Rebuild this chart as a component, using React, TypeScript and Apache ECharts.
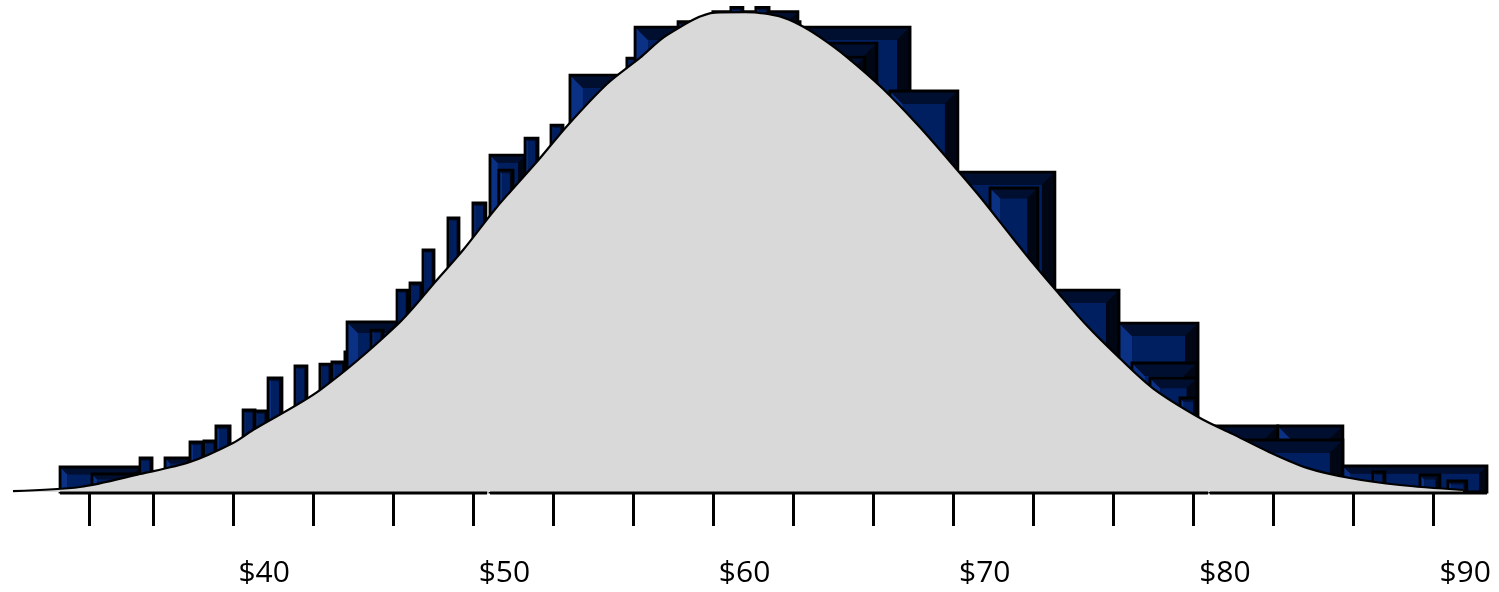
import React, { useEffect, useRef } from "react";
import * as echarts from "echarts";

// Histogram bins (price from, price to, count)
const binStart = [31.5, 32.83, 34.83, 35.87, 36.91, 37.49, 37.99, 39.12, 39.62, 40.16, 41.28, 42.32, 42.82, 43.36, 43.45, 44.45, 45.53, 46.07, 46.61, 47.65, 48.69, 49.4, 49.77, 50.86, 51.94, 52.73, 55.1, 55.44, 57.23, 58.68, 59.43, 60.47, 62.31, 61.47, 66.05, 68.88, 70.22, 72.92, 75.59, 76.13, 76.88, 78.13, 79.37, 82.2, 80.33, 84.91, 86.16, 88.12, 89.28];
const binEnd = [34.83, 34.83, 35.33, 36.91, 37.49, 37.99, 38.58, 39.62, 40.12, 40.74, 41.78, 42.78, 43.36, 43.86, 45.53, 44.95, 45.99, 46.57, 47.07, 48.11, 49.23, 50.9, 50.36, 51.4, 52.44, 55.44, 55.48, 66.89, 62.31, 62.22, 59.93, 61.02, 65.51, 65.01, 68.88, 72.92, 72.21, 75.59, 78.88, 78.83, 78.83, 78.83, 82.2, 84.91, 84.91, 90.91, 86.66, 88.95, 90.07];
const binCount = [5.18, 3.73, 7.05, 7.05, 10.37, 10.57, 13.68, 17.0, 16.79, 23.63, 26.12, 26.53, 26.95, 29.02, 35.24, 33.58, 41.87, 43.33, 50.17, 56.8, 59.91, 69.86, 66.75, 73.38, 76.08, 86.44, 89.97, 96.39, 97.49, 99.61, 100.48, 100.48, 93.08, 90.17, 83.13, 66.33, 63.02, 41.87, 35.03, 26.74, 23.63, 19.49, 13.68, 13.68, 10.78, 5.39, 4.15, 3.52, 2.28];

// Baseline runs under the bars (from, to)
const baseFrom = [31.5, 49.4, 79.37];
const baseTo = [49.28, 79.3, 90.91];

// Density curve (price, value)
const curvePrice = [29.54, 32.33, 34.83, 36.91, 38.7, 39.53, 42.32, 45.53, 47.19, 48.28, 49.69, 51.48, 52.61, 54.27, 55.64, 56.77, 58.77, 60.02, 60.52, 61.47, 62.31, 63.14, 64.26, 65.76, 67.3, 68.88, 69.8, 71.17, 72.01, 73.0, 74.25, 75.5, 77.0, 78.96, 80.33, 81.75, 83.41, 85.2, 87.28, 89.91];
const curveValue = [0.2, 1.04, 3.73, 6.22, 10.16, 12.85, 21.14, 34.62, 43.95, 50.17, 59.08, 69.2, 75.9, 84.6, 90.0, 94.73, 99.4, 99.5, 99.4, 98.57, 96.81, 94.3, 90.17, 83.6, 75.6, 66.6, 61.2, 52.6, 47.4, 41.6, 34.5, 28.3, 21.5, 15.34, 12.0, 8.5, 5.0, 2.9, 1.45, 0.41];

// Axis ticks and labels
const tickValues = [32.73, 35.39, 38.7, 42.04, 45.37, 48.7, 52.03, 55.36, 58.69, 62.02, 65.35, 68.68, 72.01, 75.34, 78.67, 82.01, 85.34, 88.67];
const labelValues = [40, 50, 60, 70, 80, 90];

export default function App() {
  const ref = useRef<HTMLDivElement>(null);
  useEffect(() => {
    document.body.style.margin = "0";
    const chart = echarts.init(ref.current!, null, { renderer: "svg" });
    const bars = binStart.map((s, i) => [s, binEnd[i], binCount[i]]);
    const base = baseFrom.map((s, i) => [s, baseTo[i]]);
    const curve = curvePrice.map((p, i) => [p, curveValue[i]]);

    const renderBar = (params: any, api: any) => {
      const s = api.value(0), e = api.value(1), c = api.value(2);
      const p0 = api.coord([s, c]);
      const p1 = api.coord([e, 0]);
      const x = p0[0], y = p0[1];
      const w = p1[0] - p0[0], h = p1[1] - p0[1];
      const b = Math.max(2, Math.min(13, w * 0.22, h * 0.3));
      return {
        type: "group",
        children: [
          { type: "rect", shape: { x, y, width: w, height: h }, style: { fill: "#000b22" } },
          { type: "polygon", shape: { points: [[x, y], [x + b, y + b], [x + b, y + h], [x, y + h]] }, style: { fill: "#0a3184" } },
          { type: "polygon", shape: { points: [[x, y], [x + w, y], [x + w - b, y + b], [x + b, y + b]] }, style: { fill: "#000f30" } },
          { type: "polygon", shape: { points: [[x + w, y], [x + w, y + h], [x + w - b, y + h], [x + w - b, y + b]] }, style: { fill: "#000614" } },
          { type: "rect", shape: { x: x + b, y: y + b, width: Math.max(0, w - 2 * b), height: Math.max(0, h - b) }, style: { fill: "#001f60" } },
          { type: "rect", shape: { x, y, width: w, height: h }, style: { fill: "none", stroke: "#000", lineWidth: 2.8 } },
        ],
      };
    };

    const renderBase = (params: any, api: any) => {
      const p0 = api.coord([api.value(0), 0]);
      const p1 = api.coord([api.value(1), 0]);
      return {
        type: "line",
        shape: { x1: p0[0], y1: p0[1] + 1, x2: p1[0], y2: p1[1] + 1 },
        style: { stroke: "#000", lineWidth: 3 },
      };
    };

    chart.setOption({
      animation: false,
      grid: { left: 0, right: 0, top: 0, bottom: 100 },
      xAxis: {
        type: "value",
        min: 29,
        max: 91.41,
        offset: 16,
        splitLine: { show: false },
        axisLine: { show: false },
        axisTick: { show: true, customValues: tickValues, length: 34, lineStyle: { color: "#000", width: 3 } },
        axisLabel: {
          customValues: labelValues,
          formatter: (v: number) => "$" + v,
          fontSize: 30,
          fontFamily: "Open Sans",
          color: "#000",
          margin: 47,
        },
      },
      yAxis: { type: "value", min: 0, max: 102, show: false },
      series: [
        { type: "custom", renderItem: renderBar, data: bars, z: 1, clip: false },
        {
          type: "line",
          data: curve,
          smooth: 0.3,
          showSymbol: false,
          lineStyle: { color: "#000", width: 2.2 },
          areaStyle: { color: "#d9d9d9", opacity: 1 },
          z: 2,
        },
        { type: "custom", renderItem: renderBase, data: base, z: 3, clip: false },
      ],
    });
    return () => chart.dispose();
  }, []);
  return <div ref={ref} style={{ width: 1499, height: 592, position: "fixed", left: 0, top: 0 }} />;
}
